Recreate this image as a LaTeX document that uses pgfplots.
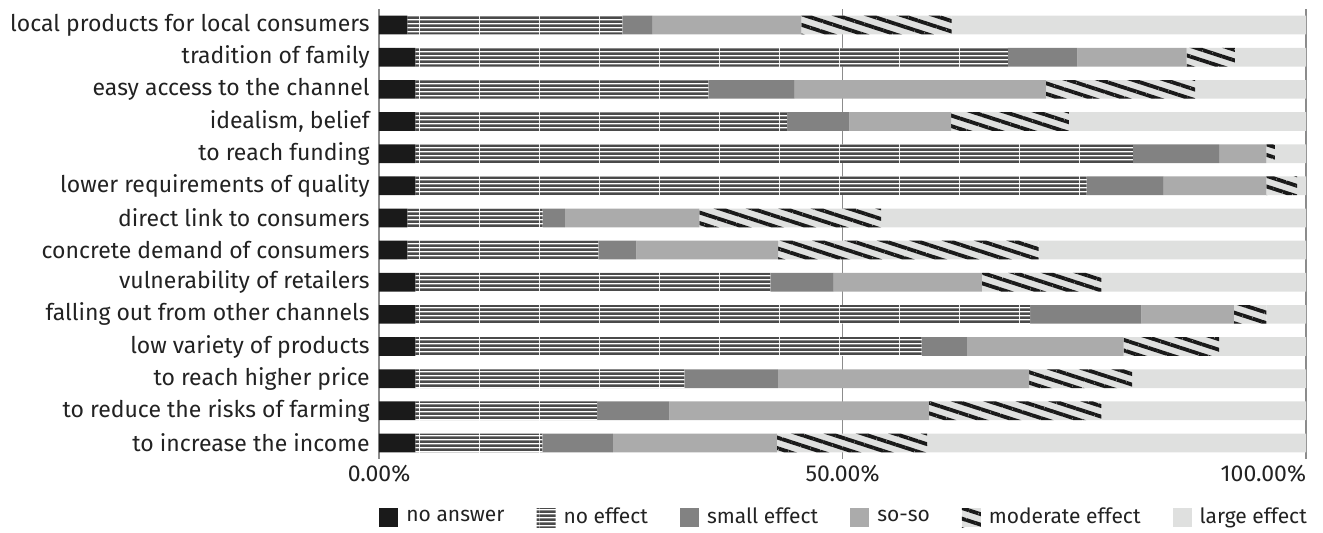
\documentclass[border=0pt]{standalone}
\usepackage{fontspec}
\setmainfont{Fira Sans}
\usepackage{pgfplots}
\pgfplotsset{compat=1.18}
\usepackage{pgfplotstable}
\usetikzlibrary{patterns.meta}

\definecolor{cNA}{HTML}{1A1A1A}
\definecolor{cNE}{HTML}{4A4A4A}
\definecolor{cSE}{HTML}{828282}
\definecolor{cSS}{HTML}{ABABAB}
\definecolor{cLE}{HTML}{DFE0DF}
\definecolor{cGrid}{HTML}{8C8C8C}
\definecolor{cTxt}{HTML}{222222}

% wide tile so the horizontal stripes show no seams
\tikzdeclarepattern{
  name=hstripes,
  type=uncolored,
  bounding box={(0pt,0pt) and (30pt,1.85pt)},
  tile size={(30pt,1.85pt)},
  code={\fill (0pt,0pt) rectangle (30pt,1.4pt);}
}

% rows top to bottom, shares in percent
\pgfplotstableread{
y  na    ne    se    ss    me    le
0  3.06  23.2  3.2   16.1  16.2  38.24
1  3.93  63.9  7.5   11.8  5.2   7.67
2  3.93  31.6  9.3   27.1  16.1  11.97
3  3.93  40.1  6.7   11.0  12.7  25.57
4  3.93  77.4  9.3   5.1   0.9   3.37
5  3.93  72.4  8.3   11.1  3.3   0.97
6  3.06  14.6  2.4   14.5  19.6  45.84
7  3.06  20.6  4.1   15.3  28.1  28.84
8  3.93  38.3  6.8   16.0  12.9  22.07
9  3.93  66.3  12.0  10.0  3.5   4.27
10 3.93  54.6  4.9   16.9  10.3  9.37
11 3.93  29.0  10.1  27.1  11.1  18.77
12 3.93  19.6  7.8   28.0  18.6  22.07
13 3.93  13.7  7.6   17.7  16.2  40.87
}\datatable

\begin{document}
\begin{tikzpicture}
\begin{axis}[
  name=ax,
  scale only axis,
  width=463.5pt, height=225pt,
  xbar stacked,
  bar width=9.35pt,
  xmin=0, xmax=100,
  ymin=-0.5, ymax=13.5,
  y dir=reverse,
  ytick={0,...,13},
  yticklabels={
    local products for local consumers,
    tradition of family,
    easy access to the channel,
    {idealism, belief},
    to reach funding,
    lower requirements of quality,
    direct link to consumers,
    concrete demand of consumers,
    vulnerability of retailers,
    falling out from other channels,
    low variety of products,
    to reach higher price,
    to reduce the risks of farming,
    to increase the income},
  xtick={0,50,100},
  xticklabels={0.00\%,50.00\%,\hbox to 0pt{\hss 100.00\%}},
  xmajorgrids,
  grid style={cGrid, line width=0.9pt},
  axis line style={draw=none},
  major tick length=0pt,
  tick label style={font=\fontsize{11.5}{13}\selectfont, text=cTxt},
  yticklabel style={inner sep=0pt, xshift=-4.5pt},
  xticklabel style={inner sep=0pt, yshift=-3pt},
  legend columns=6,
  legend image code/.code={\path[#1,draw=none] (0pt,-4.75pt) rectangle (9.5pt,4.75pt);},
  legend style={draw=none, at={(0,0)}, anchor=west, yshift=-29.25pt,
    inner sep=0pt, font=\fontsize{10.5}{12}\selectfont, text=cTxt,
    /tikz/every odd column/.append style={column sep=2pt},
    /tikz/every even column/.append style={column sep=14pt}},
]
\addplot[draw=none, fill=cNA] table[x=na, y=y] {\datatable};
\addplot[draw=none, preaction={fill=white},
  pattern=hstripes, pattern color=cNE]
  table[x=ne, y=y] {\datatable};
\addplot[draw=none, fill=cSE] table[x=se, y=y] {\datatable};
\addplot[draw=none, fill=cSS] table[x=ss, y=y] {\datatable};
\addplot[draw=none, preaction={fill=cLE},
  pattern={Lines[angle=-18, distance=5pt, line width=1.9pt]}, pattern color=cNA]
  table[x=me, y=y] {\datatable};
\addplot[draw=none, fill=cLE] table[x=le, y=y] {\datatable};
\legend{no answer, no effect, small effect, so-so, moderate effect, large effect}
\end{axis}
\pgfresetboundingbox
\useasboundingbox (ax.south west) ++(-189.5pt,-36.5pt) rectangle ++(661.5pt,266pt);
\end{tikzpicture}
\end{document}
